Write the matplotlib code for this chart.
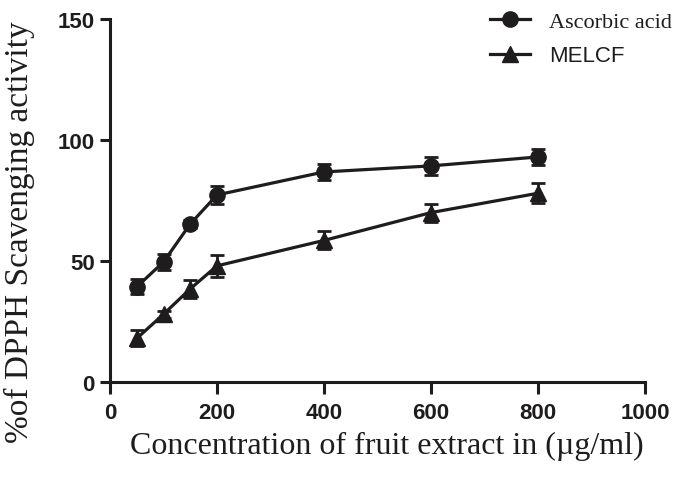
import matplotlib
matplotlib.use("Agg")
import matplotlib.pyplot as plt
from matplotlib.lines import Line2D

conc = [50, 100, 150, 200, 400, 600, 800]
ascorbic = [39.3, 49.6, 65.3, 77.3, 86.8, 89.3, 93.0]
ascorbic_err = [3.1, 3.4, 1.5, 3.8, 3.4, 3.8, 3.4]
melcf = [18.0, 28.0, 38.5, 48.0, 58.5, 70.0, 78.0]
melcf_err = [3.3, 1.5, 3.7, 4.5, 3.7, 3.7, 4.1]
xticks = [0, 200, 400, 600, 800, 1000]
yticks = [0, 50, 100, 150]
labels = ["Ascorbic acid", "MELCF"]

W, H = 685, 481
fig = plt.figure(figsize=(W / 100, H / 100), dpi=100)
ax = fig.add_axes([110 / W, 1 - 383 / H, (645 - 110) / W, (383 - 20) / H])

col = "#1e1c1d"
common = dict(color=col, lw=2.3, capsize=5, capthick=2.0, elinewidth=2.0)
ax.errorbar(conc, ascorbic, yerr=ascorbic_err, fmt="-o", ms=11, **common, clip_on=False)
ax.errorbar(conc, melcf, yerr=melcf_err, fmt="-^", ms=12, **common, clip_on=False)

ax.set_xlim(0, 1000)
ax.set_ylim(0, 150)
ax.set_xticks(xticks)
ax.set_yticks(yticks)
for s in ["top", "right"]:
    ax.spines[s].set_visible(False)
for s in ["left", "bottom"]:
    ax.spines[s].set_linewidth(2.2)
    ax.spines[s].set_color(col)
ax.tick_params(axis="x", length=8.5, width=2.2, pad=6, color=col)
ax.tick_params(axis="y", length=7.5, width=2.2, pad=3.5, color=col)
for lab in ax.get_xticklabels() + ax.get_yticklabels():
    lab.set_family("Liberation Sans")
    lab.set_fontweight("bold")
    lab.set_fontsize(16)
    lab.set_color(col)

fig.text(387 / W, 1 - 454 / H, "Concentration of fruit extract in (\u00b5g/ml)",
         family="Liberation Serif", fontsize=23, ha="center", va="baseline", color=col)
fig.text(19 / W, 1 - 232 / H, "%of DPPH Scavenging activity",
         family="Liberation Serif", fontsize=24, ha="center", va="center",
         rotation=90, color=col)

handles = [Line2D([], [], color=col, lw=2.3, marker="o", ms=11),
           Line2D([], [], color=col, lw=2.3, marker="^", ms=12)]
leg = ax.legend(handles, labels, loc="upper left", bbox_to_anchor=(490 / W, 1 - 12 / H),
                bbox_transform=fig.transFigure, frameon=False, fontsize=16,
                handlelength=1.8, handletextpad=0.85, labelspacing=0.62,
                borderpad=0, borderaxespad=0)
t = leg.get_texts()
t[0].set_family("Liberation Serif")
t[1].set_family("Liberation Sans")
for tt in t:
    tt.set_color(col)

fig.savefig("out.png", dpi=100)
